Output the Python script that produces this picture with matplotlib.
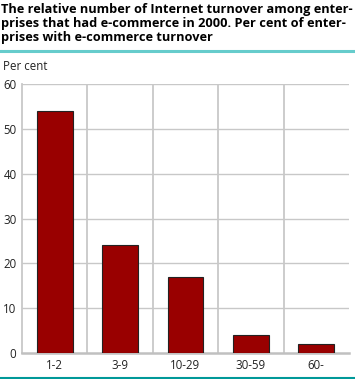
import numpy as np
import matplotlib
matplotlib.use('Agg')
import matplotlib.pyplot as plt
from matplotlib.lines import Line2D

categories = ['1-2', '3-9', '10-29', '30-59', '60-']
values = [54, 24, 17, 4, 2]
yticks = [0, 10, 20, 30, 40, 50, 60]

W, H = 355, 379
fig = plt.figure(figsize=(W / 100, H / 100), dpi=100)

# title block
fig.text(1 / W, 1 - 2.5 / H,
         'The relative number of Internet turnover among enter-\n'
         'prises that had e-commerce in 2000. Per cent of enter-\n'
         'prises with e-commerce turnover',
         ha='left', va='top', fontsize=9.2, fontweight='bold',
         family='Open Sans', linespacing=1.15, color='black')
fig.add_artist(Line2D([0, 1], [1 - 51 / H, 1 - 51 / H], color='#66cccc', lw=2.2))
fig.add_artist(Line2D([0, 1], [1 - 378 / H, 1 - 378 / H], color='#009999', lw=1.5))
fig.text(3 / W, 1 - 66 / H, 'Per cent', ha='left', va='center', fontsize=8.3,
         family='Open Sans', color='#222222')

ax = fig.add_axes([22 / W, 1 - 353 / H, (349 - 22) / W, (353 - 84) / H])
x = np.arange(len(categories))
ax.bar(x, values, width=0.55, color='#990000', edgecolor='#222222', linewidth=0.8, zorder=3)

ax.set_xlim(-0.5, len(categories) - 0.5)
ax.set_ylim(0, 60)
ax.set_yticks(yticks)
ax.set_xticks(x)
ax.set_xticklabels(categories)
for b in np.arange(0.5, len(categories) - 0.5, 1):
    ax.axvline(b, color='#c8c8c8', lw=1.3, zorder=1)
for t in yticks[1:]:
    ax.axhline(t, color='#c8c8c8', lw=1.0, zorder=1)

for s in ['top', 'right']:
    ax.spines[s].set_visible(False)
ax.spines['left'].set_color('#c8c8c8')
ax.spines['left'].set_linewidth(1.3)
ax.spines['bottom'].set_color('#c0c0c0')
ax.spines['bottom'].set_linewidth(1.8)
ax.tick_params(length=0, labelsize=8.3, colors='#222222', pad=4)
for lab in ax.get_xticklabels() + ax.get_yticklabels():
    lab.set_family('Open Sans')

fig.savefig('out.png', dpi=100)
